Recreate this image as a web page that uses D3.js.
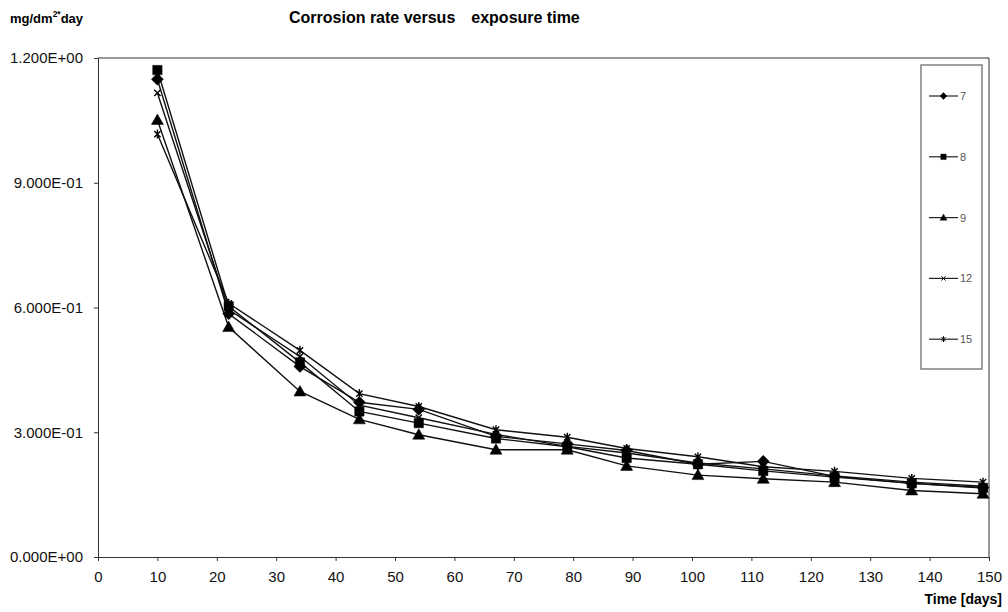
<!DOCTYPE html>
<meta charset="utf-8">
<style>
body { margin: 0; background: #fff; }
text { font-family: "Liberation Sans", Arial, sans-serif; }
.axis path, .axis line { stroke: #333; }
.axis text { font-size: 15px; fill: #111; }
.serie { fill: none; stroke: #111; stroke-width: 1.4; }
</style>

<svg width="1008" height="612"></svg>

<script src="https://d3js.org/d3.v7.min.js"></script>
<script>

var svg = d3.select("svg");

// dias de exposição
var days = [10, 22, 34, 44, 54, 67, 79, 89, 101, 112, 124, 137, 149];

var names = ["7", "8", "9", "12", "15"];
var s7  = [1.149, 0.585, 0.458, 0.372, 0.355, 0.290, 0.272, 0.256, 0.223, 0.230, 0.194, 0.177, 0.167];
var s8  = [1.171, 0.603, 0.468, 0.350, 0.322, 0.285, 0.265, 0.238, 0.223, 0.207, 0.192, 0.177, 0.166];
var s9  = [1.051, 0.553, 0.398, 0.331, 0.294, 0.258, 0.258, 0.219, 0.197, 0.188, 0.180, 0.160, 0.152];
var s12 = [1.116, 0.595, 0.482, 0.365, 0.335, 0.295, 0.266, 0.250, 0.226, 0.212, 0.195, 0.180, 0.170];
var s15 = [1.017, 0.610, 0.497, 0.393, 0.362, 0.306, 0.288, 0.261, 0.241, 0.217, 0.206, 0.189, 0.180];
var series = [s7, s8, s9, s12, s15];

var yTicks = [0, 0.3, 0.6, 0.9, 1.2];
var xTicks = d3.range(0, 151, 10);

var x = d3.scaleLinear().domain([0, 150]).range([98, 989]);
var y = d3.scaleLinear().domain([0, 1.2]).range([557, 58]);

// marcadores estilo Excel
function marker(k, r) {
  if (k == 0) return "M0," + (-r) + "L" + r + ",0L0," + r + "L" + (-r) + ",0Z";
  if (k == 1) { var a = r * 0.78; return "M" + (-a) + "," + (-a) + "H" + a + "V" + a + "H" + (-a) + "Z"; }
  if (k == 2) return "M0," + (-r) + "L" + r + "," + (r * 0.75) + "H" + (-r) + "Z";
  var b = r * 0.7;
  var p = "M" + (-b) + "," + (-b) + "L" + b + "," + b + "M" + b + "," + (-b) + "L" + (-b) + "," + b;
  if (k == 4) p += "M0," + (-r) + "V" + r;
  return p;
}
function filled(k) { return k < 3; }

// eixos
svg.append("g")
    .attr("class", "axis")
    .attr("transform", "translate(0,557)")
    .call(d3.axisBottom(x).tickValues(xTicks).tickSize(4).tickSizeOuter(0).tickPadding(10));

svg.append("g")
    .attr("class", "axis")
    .attr("transform", "translate(98,0)")
    .call(d3.axisLeft(y).tickValues(yTicks).tickSize(4).tickSizeOuter(0).tickPadding(11)
      .tickFormat(d => d.toExponential(3).replace(/e([+-])(\d)$/, "E$10$2").replace("e", "E")));

// borda superior e direita
svg.append("path")
    .attr("d", "M98,58H989V557")
    .attr("fill", "none")
    .attr("stroke", "#333");

var line = d3.line().x((d, i) => x(days[i])).y(d => y(d));

series.forEach(function(s, k) {
  svg.append("path").attr("class", "serie").attr("d", line(s));
});

series.forEach(function(s, k) {
  svg.append("g").selectAll("path")
    .data(s)
    .enter().append("path")
      .attr("transform", (d, i) => "translate(" + x(days[i]) + "," + y(d) + ")")
      .attr("d", marker(k, filled(k) ? 6 : 4.5))
      .attr("fill", filled(k) ? "#000" : "none")
      .attr("stroke", "#000")
      .attr("stroke-width", filled(k) ? 0.5 : 1.4);
});

// legenda
var leg = svg.append("g");
leg.append("rect")
    .attr("x", 921).attr("y", 65).attr("width", 61).attr("height", 304)
    .attr("fill", "#fff").attr("stroke", "#777").attr("stroke-width", 1.4);

names.forEach(function(n, k) {
  var ly = 96 + k * 60.8;
  leg.append("line")
      .attr("x1", 929).attr("x2", 958).attr("y1", ly).attr("y2", ly)
      .attr("stroke", "#222").attr("stroke-width", 1.2);
  leg.append("path")
      .attr("transform", "translate(943.5," + ly + ")")
      .attr("d", marker(k, filled(k) ? 3.5 : 3))
      .attr("fill", filled(k) ? "#000" : "none")
      .attr("stroke", "#000")
      .attr("stroke-width", filled(k) ? 0.4 : 1);
  leg.append("text")
      .attr("x", 960).attr("y", ly + 4)
      .style("font-size", "11px").style("fill", "#555")
      .text(n);
});

// títulos
var tt = svg.append("text")
    .attr("x", 289).attr("y", 23)
    .style("font-size", "16px").style("font-weight", "bold");
tt.append("tspan").text("Corrosion rate versus");
tt.append("tspan").attr("dx", 16).text("exposure time");

var yl = svg.append("text")
    .attr("x", 10).attr("y", 23)
    .style("font-size", "13px").style("font-weight", "bold");
yl.append("tspan").text("mg/dm");
yl.append("tspan").attr("dy", -6).style("font-size", "8.5px").text("2*");
yl.append("tspan").attr("dy", 6).text("day");

svg.append("text")
    .attr("x", 1002).attr("y", 604)
    .attr("text-anchor", "end")
    .style("font-size", "14px").style("font-weight", "bold")
    .text("Time [days]");

</script>
